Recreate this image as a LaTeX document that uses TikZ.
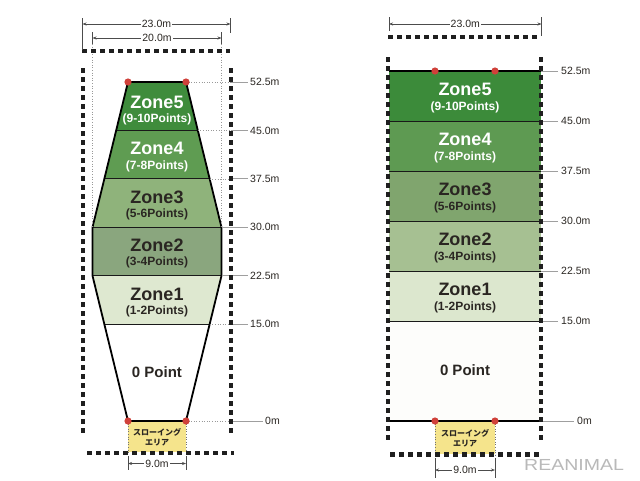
\documentclass[tikz,border=0pt]{standalone}
\usepackage{fontspec}
\setmainfont{Liberation Sans}
\newfontfamily\jp{Noto Sans CJK JP}
\usetikzlibrary{arrows.meta}
\definecolor{zfiveL}{HTML}{3F8C3C}
\definecolor{zfourL}{HTML}{5F9C52}
\definecolor{zthreeL}{HTML}{8FB37B}
\definecolor{ztwoL}{HTML}{8AA67E}
\definecolor{zoneL}{HTML}{DEE8D0}
\definecolor{zfiveR}{HTML}{3C8B3A}
\definecolor{zfourR}{HTML}{5E9A52}
\definecolor{zthreeR}{HTML}{80A56E}
\definecolor{ztwoR}{HTML}{A6C092}
\definecolor{zoneR}{HTML}{DCE7CE}
\definecolor{zzeroR}{HTML}{FDFDFB}
\definecolor{yel}{HTML}{F5E48C}
\definecolor{dotred}{HTML}{D0413A}
\definecolor{txt}{HTML}{2A2622}
\begin{document}
\begin{tikzpicture}[x=1pt,y=-1pt,
  sq/.style={line width=4.5pt, dash pattern=on 4.5pt off 4.5pt, black!88},
  gdot/.style={gray!80, line width=0.7pt, dash pattern=on 1pt off 1.6pt},
  ydot/.style={black!55, line width=0.7pt, dash pattern=on 1pt off 1.6pt},
  tickl/.style={gray!75, line width=0.9pt},
  dimline/.style={black!70, line width=0.6pt, {Stealth[length=4pt,width=3pt]}-{Stealth[length=4pt,width=3pt]}},
  dimtick/.style={black!70, line width=0.7pt},
  dimlab/.style={font=\fontsize{10.5}{12}\selectfont, text=txt, fill=white, inner sep=1pt},
  lvl/.style={font=\fontsize{10.5}{12}\selectfont, text=txt, anchor=west, inner sep=0pt},
  zt/.style={font=\bfseries\fontsize{18}{18}\selectfont, anchor=base, inner sep=0pt},
  zp/.style={font=\bfseries\fontsize{12}{12}\selectfont, anchor=base, inner sep=0pt},
  reddot/.style={fill=dotred, draw=none},
  jplab/.style={font=\jp\bfseries\fontsize{8}{10}\selectfont, align=center, text=txt, inner sep=0pt},
  outl/.style={black, line width=1.8pt, line join=round},
  sep/.style={black!90, line width=1pt},
]
\useasboundingbox (0,0) rectangle (640,480);
\fill[white] (0,0) rectangle (640,480);

% ================= LEFT DIAGRAM =================
\fill[zfiveL] (128,82) -- (186,82) -- (197.8,130.4) -- (116.2,130.4) -- cycle;
\fill[zfourL] (116.2,130.4) -- (197.8,130.4) -- (209.7,178.9) -- (104.3,178.9) -- cycle;
\fill[zthreeL] (104.3,178.9) -- (209.7,178.9) -- (221.5,227.3) -- (92.5,227.3) -- cycle;
\fill[ztwoL] (92.5,227.3) rectangle (221.5,275.7);
\fill[zoneL] (92.5,275.7) -- (221.5,275.7) -- (209.7,324.1) -- (104.3,324.1) -- cycle;
\fill[yel] (128,421) rectangle (186,452);
\draw[ydot] (128,421) -- (128,453);
\draw[ydot] (186,421) -- (186,453);
\draw[sep] (116.2,130.4) -- (197.8,130.4);
\draw[sep] (104.3,178.9) -- (209.7,178.9);
\draw[sep] (92.5,227.3) -- (221.5,227.3);
\draw[sep] (92.5,275.7) -- (221.5,275.7);
\draw[sep] (104.3,324.1) -- (209.7,324.1);
\draw[outl] (128,82) -- (186,82) -- (221.5,227.3) -- (221.5,275.7) -- (186,421) -- (128,421) -- (92.5,275.7) -- (92.5,227.3) -- cycle;

\draw[gdot] (92.5,44) -- (92.5,227.3);
\draw[gdot] (221.5,44) -- (221.5,227.3);
\draw[gdot] (186,82) -- (231,82);
\draw[gdot] (197.8,130.4) -- (231,130.4);
\draw[gdot] (209.7,178.9) -- (231,178.9);
\draw[gdot] (209.7,324.1) -- (231,324.1);
\draw[gdot] (186,421) -- (231,421);

\node[lvl] (La) at (250,82) {52.5m};
\node[lvl] (Lb) at (250,130.4) {45.0m};
\node[lvl] (Lc) at (250,178.9) {37.5m};
\node[lvl] (Ld) at (250,227.3) {30.0m};
\node[lvl] (Le) at (250,275.7) {22.5m};
\node[lvl] (Lf) at (250,324.1) {15.0m};
\node[lvl] (Lg) at (265,421) {0m};
\coordinate (Ta) at (231,82);
\coordinate (Tb) at (231,130.4);
\coordinate (Tc) at (231,178.9);
\coordinate (Td) at (221.5,227.3);
\coordinate (Te) at (221.5,275.7);
\coordinate (Tf) at (231,324.1);
\coordinate (Tg) at (231,421);
\foreach \t/\l in {Ta/La,Tb/Lb,Tc/Lc,Td/Ld,Te/Le,Tf/Lf,Tg/Lg}
  \draw[tickl] (\t) -- ([xshift=-2pt]\l.west);

\draw[sq] (82,51) -- (230,51);
\draw[sq] (83,68) -- (83,436);
\draw[sq] (231,68) -- (231,436);
\draw[sq] (87,453) -- (234,453);

\coordinate (A1) at (82.5,24);
\coordinate (A2) at (230.5,24);
\draw[dimtick] (82.5,18) -- (82.5,50);
\draw[dimtick] (230.5,18) -- (230.5,33);
\draw[dimline] (A1) -- (A2) node[midway, dimlab] (d23L) {23.0m};
\coordinate (B1) at (92.5,38);
\coordinate (B2) at (221.5,38);
\draw[dimtick] (92.5,32) -- (92.5,44);
\draw[dimtick] (221.5,32) -- (221.5,44);
\draw[dimline] (B1) -- (B2) node[midway, dimlab] (d20L) {20.0m};
\coordinate (C1) at (128,463.5);
\coordinate (C2) at (186,463.5);
\draw[dimtick] (128,456) -- (128,470);
\draw[dimtick] (186,456) -- (186,470);
\draw[dimline] (C1) -- (C2) node[midway, dimlab] (d9L) {9.0m};

\fill[reddot] (128,82) circle (3.6pt);
\fill[reddot] (186,82) circle (3.6pt);
\fill[reddot] (128,421) circle (3.6pt);
\fill[reddot] (186,421) circle (3.6pt);

\node[zt, text=white] (z5Lt) at (157,108) {Zone5};
\node[zp, text=white] (z5Lp) at (157,122) {(9-10Points)};
\node[zt, text=white] (z4Lt) at (157,154.5) {Zone4};
\node[zp, text=white] (z4Lp) at (157,169) {(7-8Points)};
\node[zt, text=txt] (z3Lt) at (157,203) {Zone3};
\node[zp, text=txt] (z3Lp) at (157,217.5) {(5-6Points)};
\node[zt, text=txt] (z2Lt) at (157,251.5) {Zone2};
\node[zp, text=txt] (z2Lp) at (157,265.5) {(3-4Points)};
\node[zt, text=txt] (z1Lt) at (157,300) {Zone1};
\node[zp, text=txt] (z1Lp) at (157,314) {(1-2Points)};
\node[anchor=base, inner sep=0pt, font=\bfseries\fontsize{15}{15}\selectfont, text=txt] (z0L) at (157,377) {0 Point};
\node[jplab] (jpL) at (157,437) {スローイング\\エリア};

% ================= RIGHT DIAGRAM =================
\fill[zfiveR] (389,71) rectangle (541,121);
\fill[zfourR] (389,121) rectangle (541,171);
\fill[zthreeR] (389,171) rectangle (541,221);
\fill[ztwoR] (389,221) rectangle (541,271);
\fill[zoneR] (389,271) rectangle (541,321);
\fill[zzeroR] (389,321) rectangle (541,421);
\fill[yel] (435,421) rectangle (495,454);
\draw[ydot] (435,421) -- (435,455);
\draw[ydot] (495,421) -- (495,455);
\draw[black, line width=1.5pt] (389,71) -- (541,71);
\foreach \yy in {121,171,221,271,321}
  \draw[sep] (389,\yy) -- (541,\yy);
\draw[black, line width=1.5pt] (389,421) -- (541,421);

\node[lvl] (Ra) at (561,71) {52.5m};
\node[lvl] (Rb) at (561,121) {45.0m};
\node[lvl] (Rc) at (561,171) {37.5m};
\node[lvl] (Rd) at (561,221) {30.0m};
\node[lvl] (Re) at (561,271) {22.5m};
\node[lvl] (Rf) at (561,321) {15.0m};
\node[lvl] (Rg) at (577,421) {0m};
\coordinate (Ua) at (541,71);
\coordinate (Ub) at (541,121);
\coordinate (Uc) at (541,171);
\coordinate (Ud) at (541,221);
\coordinate (Ue) at (541,271);
\coordinate (Uf) at (541,321);
\coordinate (Ug) at (541,421);
\foreach \t/\l in {Ua/Ra,Ub/Rb,Uc/Rc,Ud/Rd,Ue/Re,Uf/Rf,Ug/Rg}
  \draw[tickl] (\t) -- ([xshift=-3pt]\l.west);

\draw[sq] (388,37) -- (540,37);
\draw[sq] (388,57) -- (388,442);
\draw[sq] (541,57) -- (541,442);
\draw[sq] (390,454.5) -- (543,454.5);

\coordinate (D1) at (389,24);
\coordinate (D2) at (541.5,24);
\draw[dimtick] (389,17) -- (389,31);
\draw[dimtick] (541.5,17) -- (541.5,36);
\draw[dimline] (D1) -- (D2) node[midway, dimlab] (d23R) {23.0m};
\coordinate (E1) at (435,470);
\coordinate (E2) at (495,470);
\draw[dimtick] (435,458) -- (435,478);
\draw[dimtick] (495,458) -- (495,478);
\draw[dimline] (E1) -- (E2) node[midway, dimlab] (d9R) {9.0m};

\fill[reddot] (435,71) circle (3.6pt);
\fill[reddot] (495,71) circle (3.6pt);
\fill[reddot] (435,421) circle (3.6pt);
\fill[reddot] (495,421) circle (3.6pt);

\node[zt, text=white] (z5Rt) at (465,95.5) {Zone5};
\node[zp, text=white] (z5Rp) at (465,110) {(9-10Points)};
\node[zt, text=white] (z4Rt) at (465,145.5) {Zone4};
\node[zp, text=white] (z4Rp) at (465,160) {(7-8Points)};
\node[zt, text=txt] (z3Rt) at (465,195.5) {Zone3};
\node[zp, text=txt] (z3Rp) at (465,210) {(5-6Points)};
\node[zt, text=txt] (z2Rt) at (465,245.5) {Zone2};
\node[zp, text=txt] (z2Rp) at (465,260) {(3-4Points)};
\node[zt, text=txt] (z1Rt) at (465,295.5) {Zone1};
\node[zp, text=txt] (z1Rp) at (465,310) {(1-2Points)};
\node[anchor=base, inner sep=0pt, font=\bfseries\fontsize{15}{15}\selectfont, text=txt] (z0R) at (465,375) {0 Point};
\node[jplab] (jpR) at (465,438) {スローイング\\エリア};

\node[anchor=base west, inner sep=0pt, font=\fontsize{16}{16}\selectfont, text=gray!55] (wm) at (524,470.5) {\scalebox{1.22}[1]{REANIMAL}};
\end{tikzpicture}
\end{document}
